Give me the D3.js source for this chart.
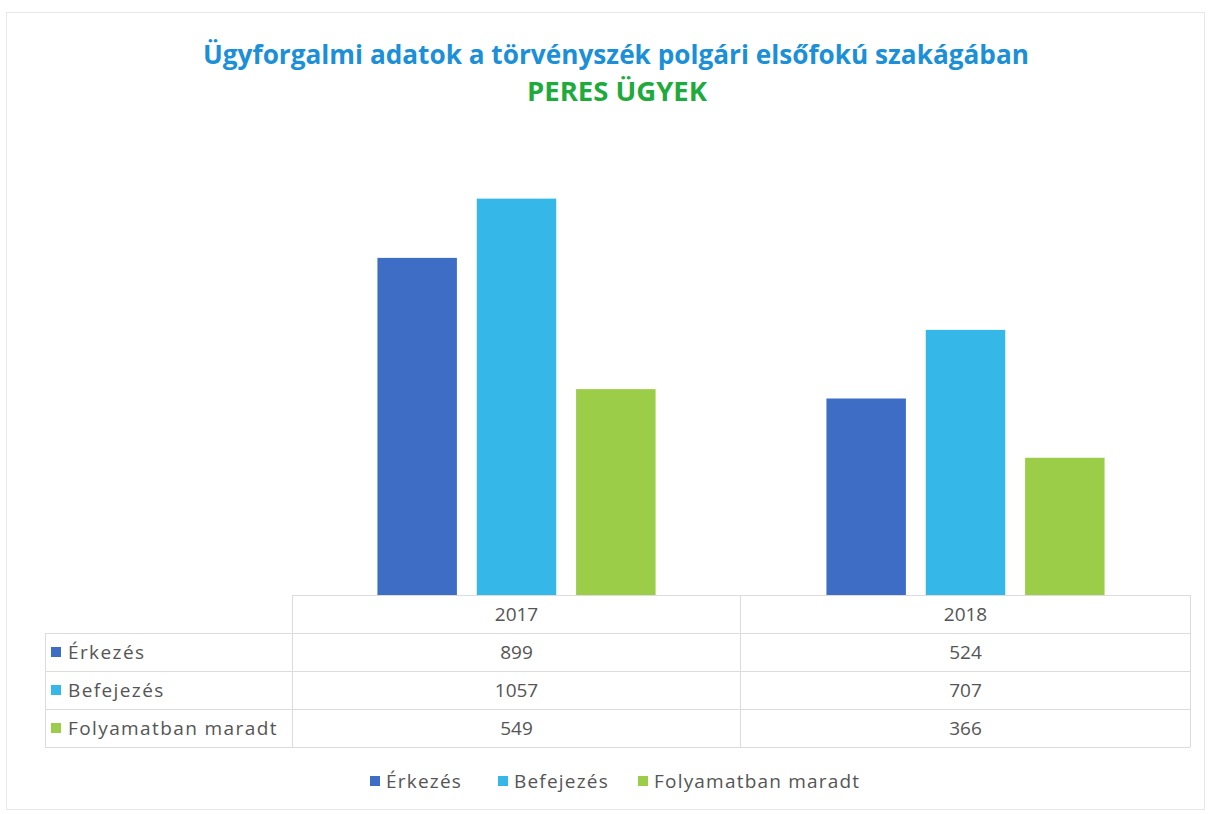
<!DOCTYPE html>
<html>
<head>
<meta charset="utf-8">
<script src="https://cdn.jsdelivr.net/npm/d3@7"></script>
<style>
  body { margin: 0; background: #fff; }
  svg { display: block; font-family: "Open Sans", "Noto Sans", sans-serif; }
</style>
</head>
<body>
<svg width="1210" height="814"></svg>
<script>
var years = ['2017', '2018'];
var seriesNames = ['Érkezés', 'Befejezés', 'Folyamatban maradt'];
var erkezes = [899, 524];
var befejezes = [1057, 707];
var folyamatban = [549, 366];

var svg = d3.select('svg'),
    colors = ['#3d6dc5', '#35b8e8', '#9ccd48'];

var values = [erkezes, befejezes, folyamatban];

// faint outer frame
svg.append('rect')
    .attr('x', 6.5).attr('y', 12.5).attr('width', 1198).attr('height', 797)
    .attr('fill', 'none').attr('stroke', '#e8e8e8');

// titles
svg.append('text')
    .attr('x', 616).attr('y', 64)
    .attr('text-anchor', 'middle')
    .attr('fill', '#1b8fd8')
    .attr('font-weight', 'bold')
    .attr('font-size', 27)
    .attr('textLength', 826).attr('lengthAdjust', 'spacingAndGlyphs')
    .text('Ügyforgalmi adatok a törvényszék polgári elsőfokú szakágában');

svg.append('text')
    .attr('x', 617).attr('y', 101)
    .attr('text-anchor', 'middle')
    .attr('fill', '#1eaa3c')
    .attr('font-weight', 'bold')
    .attr('font-size', 27)
    .attr('textLength', 180).attr('lengthAdjust', 'spacingAndGlyphs')
    .text('PERES ÜGYEK');

// scales
var x0 = d3.scaleBand().domain(years).range([292, 1190]);
var x1 = d3.scaleBand().domain(seriesNames).range([0, x0.bandwidth()]).paddingInner(0.2).paddingOuter(0.86);
var y = d3.scaleLinear().domain([0, 1200]).range([595, 145]);

var groups = svg.append('g').selectAll('g')
    .data(years)
    .join('g')
    .attr('transform', function (d) { return 'translate(' + x0(d) + ',0)'; });

groups.selectAll('rect')
    .data(function (d, i) {
        return seriesNames.map(function (s, j) { return { s: s, v: values[j][i], c: colors[j] }; });
    })
    .join('rect')
    .attr('x', function (d) { return x1(d.s); })
    .attr('width', x1.bandwidth())
    .attr('y', function (d) { return y(d.v); })
    .attr('height', function (d) { return y(0) - y(d.v); })
    .attr('fill', function (d) { return d.c; });

// data table
var rowY = d3.scaleBand().domain(['head'].concat(seriesNames)).range([595, 747]);
var grid = svg.append('g').attr('stroke', '#dcdcdc').attr('stroke-width', 1).attr('fill', 'none');

grid.append('line').attr('x1', 292).attr('x2', 1190).attr('y1', 595.5).attr('y2', 595.5);
rowY.domain().slice(1).forEach(function (r) {
    var yy = Math.round(rowY(r)) + 0.5;
    grid.append('line').attr('x1', 45).attr('x2', 1190).attr('y1', yy).attr('y2', yy);
});
grid.append('line').attr('x1', 45).attr('x2', 1190).attr('y1', 747.5).attr('y2', 747.5);
[292, 740, 1190].forEach(function (xx) {
    grid.append('line')
        .attr('x1', xx + 0.5).attr('x2', xx + 0.5)
        .attr('y1', 595).attr('y2', 747);
});
grid.append('line').attr('x1', 45.5).attr('x2', 45.5).attr('y1', rowY(seriesNames[0])).attr('y2', 747);

var tableText = svg.append('g').attr('fill', '#555555').attr('font-size', 19);

years.forEach(function (yr, i) {
    var cx = x0(yr) + x0.bandwidth() / 2;
    tableText.append('text')
        .attr('x', cx).attr('y', rowY('head') + rowY.bandwidth() / 2 + 7)
        .attr('text-anchor', 'middle')
        .text(yr);
    seriesNames.forEach(function (s, j) {
        tableText.append('text')
            .attr('x', cx).attr('y', rowY(s) + rowY.bandwidth() / 2 + 7)
            .attr('text-anchor', 'middle')
            .text(values[j][i]);
    });
});

seriesNames.forEach(function (s, j) {
    var yy = rowY(s) + rowY.bandwidth() / 2;
    svg.append('rect')
        .attr('x', 51).attr('y', yy - 5).attr('width', 10).attr('height', 10)
        .attr('fill', colors[j]);
    tableText.append('text')
        .attr('x', 68).attr('y', yy + 7)
        .attr('letter-spacing', 1.4)
        .text(s);
});

// bottom legend
var legendX = [370, 498, 638];
var legend = svg.append('g').selectAll('g')
    .data(seriesNames)
    .join('g')
    .attr('transform', function (d, i) { return 'translate(' + legendX[i] + ',781)'; });

legend.append('rect')
    .attr('x', 0).attr('y', -5).attr('width', 10).attr('height', 10)
    .attr('fill', function (d, i) { return colors[i]; });

legend.append('text')
    .attr('x', 16).attr('y', 7)
    .attr('fill', '#555555')
    .attr('font-size', 19)
    .attr('letter-spacing', 1.2)
    .text(function (d) { return d; });
</script>
</body>
</html>
